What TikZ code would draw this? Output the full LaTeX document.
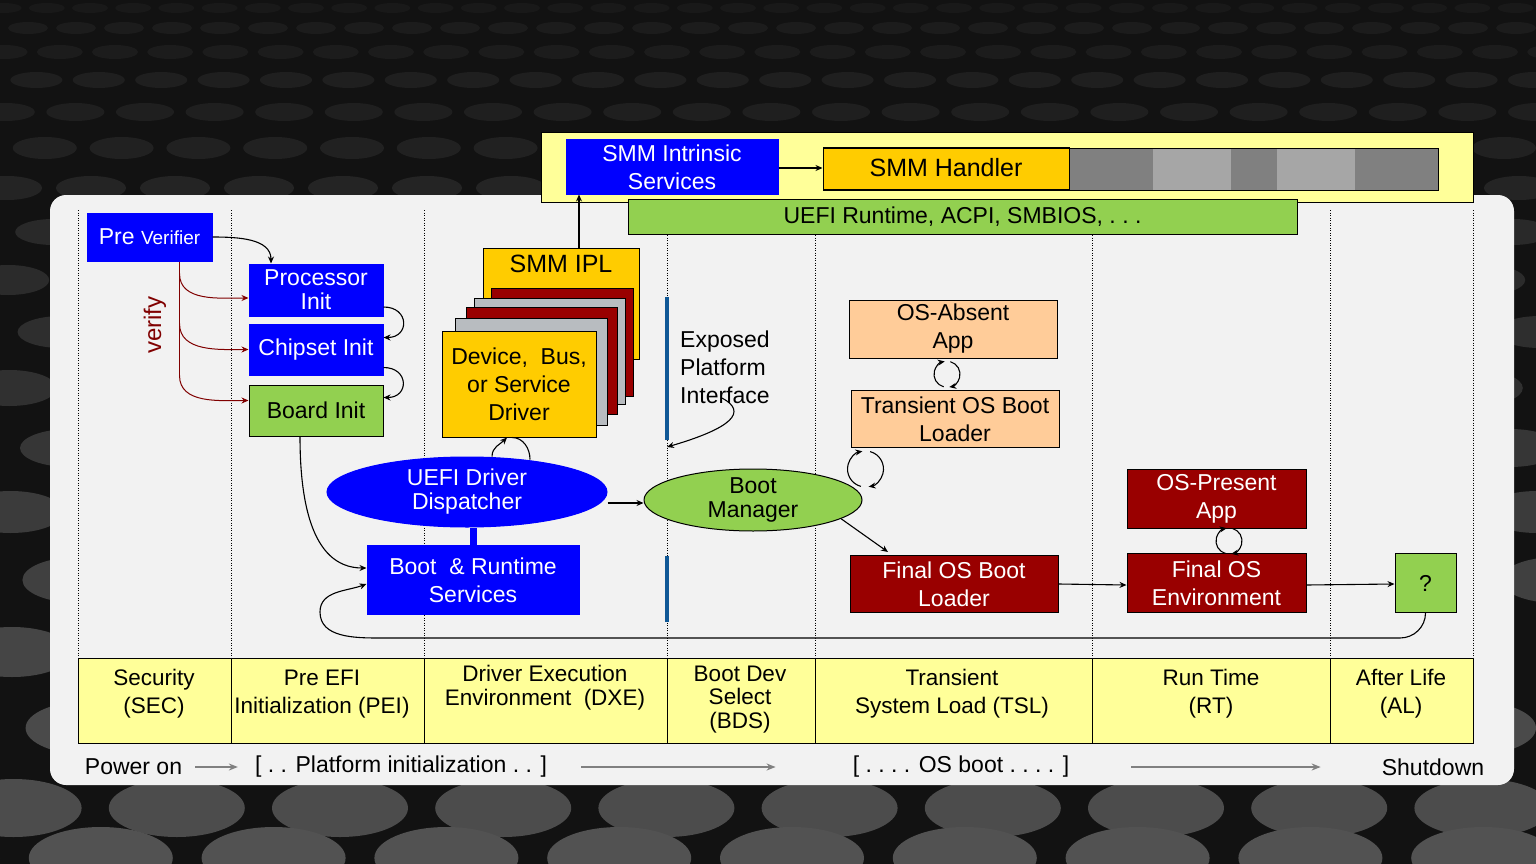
\documentclass[tikz,border=0pt]{standalone}
\usepackage{fontspec}
\setmainfont{Liberation Sans}
\usepackage{tikz}
\usetikzlibrary{arrows.meta,shapes.geometric,calc}

\definecolor{uefiblue}{RGB}{0,0,255}
\definecolor{leafgreen}{RGB}{146,208,80}
\definecolor{smmyellow}{RGB}{255,204,0}
\definecolor{paleyellow}{RGB}{255,255,153}
\definecolor{darkred}{RGB}{153,0,0}
\definecolor{peach}{RGB}{255,204,153}
\definecolor{panelgray}{RGB}{242,242,242}
\definecolor{verifyred}{RGB}{128,0,0}
\definecolor{barblue}{RGB}{16,88,150}
\definecolor{stackgray}{RGB}{184,188,192}
\definecolor{segdark}{RGB}{128,128,128}
\definecolor{seglight}{RGB}{166,166,166}

\begin{document}
\begin{tikzpicture}[x=1pt,y=-1pt,
  box/.style={draw=black,line width=1pt,inner sep=0pt,align=center,font=\fontsize{23}{28}\selectfont},
  bluebox/.style={box,draw=uefiblue,fill=uefiblue,text=white},
  greenbox/.style={box,fill=leafgreen},
  redbox/.style={box,fill=darkred,text=white},
  peachbox/.style={box,fill=peach},
  ambbox/.style={box,fill=smmyellow},
  flow/.style={line width=1.1pt,-{Stealth[length=7pt,width=6pt]}},
  verline/.style={verifyred,line width=1pt},
  verflow/.style={verline,-{Stealth[length=7pt,width=6pt]}},
  phaseline/.style={black,line width=0.7pt,dash pattern=on 1pt off 1.5pt},
  phase/.style={align=center,inner sep=0pt,font=\fontsize{22.5}{28}\selectfont},
  tltext/.style={inner sep=0pt,font=\fontsize{23}{28}\selectfont},
  timeline/.style={segdark,line width=2.2pt,-{Stealth[length=9pt,width=7pt]}},
  epibar/.style={barblue,line width=4pt}]
\useasboundingbox (0,0) rectangle (1536,864);

%%Background
\begin{scope}
\clip (0,0) rectangle (1536,864);
\fill[white!7!black] (0,0) rectangle (1536,864);
\foreach \yy/\rx/\ry/\lum [count=\rowno] in {8/18/5/10, 28/20/6/11, 52/23/7/11, 80/26/8/12,
    112/29/9/12, 148/32/11/13, 188/35/12/14, 232/38/13/16, 280/41/15/17, 332/44/16/18,
    388/47/18/19, 448/50/19/21, 512/53/21/23, 580/56/23/25, 652/60/25/27, 728/64/27/29,
    808/68/29/30, 858/72/31/32}{
  \pgfmathtruncatemacro{\nn}{1536/(2.4*\rx)+1}
  \pgfmathsetmacro{\xoff}{mod(\rowno,2)*1.2*\rx}
  \foreach \k in {0,...,\nn}
    \fill[white!\lum!black] ({\k*2.4*\rx+\xoff-\rx},\yy) ellipse [x radius=\rx, y radius=\ry];
}
\end{scope}

%%Panel
\fill[panelgray,rounded corners=16pt] (50,195) rectangle (1514,785);

%%Phase columns
\foreach \xx in {78,231,424,667,815,1092,1330,1473}
  \draw[phaseline] (\xx,210) -- (\xx,658);

%%Phase table
\draw[line width=1pt,fill=paleyellow] (78,658) rectangle (1473,743);
\foreach \xx in {231,424,667,815,1092,1330}
  \draw[line width=1pt] (\xx,658) -- (\xx,743);
\node[phase] (sec) at (154,694) {Security\\(SEC)};
\node[phase] (pei) at (322,694) {Pre EFI\\Initialization (PEI)};
\node[phase,font=\fontsize{22.5}{24}\selectfont] (dxe) at (545,688) {Driver Execution\\Environment\ \ (DXE)};
\node[phase,font=\fontsize{22.5}{23.5}\selectfont] (bds) at (740,699.5) {Boot Dev\\Select\\(BDS)};
\node[phase] (tsl) at (952,694) {Transient\\System Load (TSL)};
\node[phase] (rt) at (1211,694) {Run Time\\(RT)};
\node[phase] (al) at (1401,694) {After Life\\(AL)};

%%Timeline
\node[tltext] (pwr) at (133.5,767) {Power on};
\node[tltext] (platf) at (401,767) {[ .\ . Platform initialization .\ . ]};
\node[tltext] (osboot) at (961,767) {[ .\ .\ .\ . OS boot .\ .\ .\ . ]};
\node[tltext] (shut) at (1433,767) {Shutdown};
\draw[timeline] ([xshift=13pt]pwr.east) -- ([xshift=-17pt]platf.west);
\draw[timeline] ([xshift=34pt]platf.east) -- ([xshift=-77pt]osboot.west);
\draw[timeline] ([xshift=62pt]osboot.east) -- ([xshift=-61pt]shut.west);

%%SMM
\node[box,fill=paleyellow,minimum width=932pt,minimum height=69pt] (smmframe) at (1007,167.5) {};
\node[bluebox,minimum width=212pt,minimum height=54pt] (smmint) at (672,167) {SMM Intrinsic\\Services};
\node[ambbox,font=\fontsize{25}{28}\selectfont,minimum width=246pt,minimum height=42pt] (handler) at (946,168) {SMM Handler};
\foreach \a/\b/\c in {1069/1153/segdark,1153/1231/seglight,1231/1277/segdark,1277/1355/seglight,1355/1438/segdark}
  \fill[\c] (\a,148) rectangle (\b,190);
\draw[line width=1pt] (823,148) rectangle (1438,190);
\draw[line width=1pt] (1069,148) -- (1069,190);
\draw[flow] (smmint.east |- handler.west) -- (handler.west);
\node[greenbox,minimum width=669pt,minimum height=35pt] (uefirt) at (962.5,217) {UEFI Runtime, ACPI, SMBIOS, .\ .\ .};

%%SEC and PEI
\node[bluebox,minimum width=125pt,minimum height=48pt] (prever) at (149.5,237)
  {\fontsize{23}{24}\selectfont Pre \fontsize{19}{24}\selectfont Verifier};
\node[bluebox,font=\fontsize{23}{24}\selectfont,minimum width=134pt,minimum height=52pt] (proc) at (316,290) {Processor\\Init};
\node[bluebox,minimum width=134pt,minimum height=51pt] (chipset) at (316,349.5) {Chipset Init};
\node[greenbox,minimum width=134pt,minimum height=51pt] (board) at (316,410.5) {Board Init};
\node[rotate=90,text=verifyred,font=\fontsize{24}{24}\selectfont] (verlbl) at (155,325) {verify};

\draw[flow] (prever.east) to[out=0,in=90] ([xshift=-45pt]proc.north);
\coordinate (vtop) at ([xshift=-33pt]prever.south east);
\draw[verline] (vtop) -- ($(vtop)+(0,114)$);
\draw[verflow] ($(vtop)+(0,12)$) to[out=-90,in=180] ([yshift=-8pt]proc.west);
\draw[verflow] ($(vtop)+(0,62)$) to[out=-90,in=180] (chipset.west);
\draw[verflow] ($(vtop)+(0,114)$) to[out=-90,in=180] ([yshift=10pt]board.west);
\draw[flow] ([yshift=-17pt]proc.east) to[out=0,in=0,looseness=2.2] ([yshift=12pt]chipset.east);
\draw[flow] ([yshift=-18pt]chipset.east) to[out=0,in=0,looseness=2.2] ([yshift=13pt]board.east);

%%DXE
\node[ambbox,anchor=north,font=\fontsize{25}{28}\selectfont,minimum width=156pt,inner ysep=6pt,text height=18pt,text depth=81pt] (smmipl) at (561,248) {SMM IPL};
\node[box,fill=darkred,minimum width=142pt,minimum height=108pt] (stackA) at (562,342) {};
\node[box,fill=stackgray,minimum width=151pt,minimum height=106pt] (stackB) at (549.5,351) {};
\node[box,fill=darkred,minimum width=151pt,minimum height=107pt] (stackC) at (541.5,360.5) {};
\node[box,fill=stackgray,minimum width=152pt,minimum height=107pt] (stackD) at (531,371.5) {};
\node[ambbox,minimum width=154pt,minimum height=106pt] (dev) at (519,384) {Device,\ \ Bus,\\or Service\\Driver};
\draw[flow] ([xshift=18pt]smmipl.north) -- ([xshift=18pt]smmipl.north |- smmint.south);

\node[ellipse,bluebox,font=\fontsize{23}{24}\selectfont,minimum width=280pt,minimum height=70pt,inner ysep=-4pt] (disp) at (467,492) {UEFI Driver\\Dispatcher};
\node[bluebox,minimum width=212pt,minimum height=69pt] (brs) at (473,580) {Boot\ \ \& Runtime\\Services};
\draw[uefiblue,line width=7pt] (brs.north) -- (brs.north |- disp.south);
\draw[flow] ([xshift=25pt]disp.north) to[out=90,in=-135] ([xshift=-12pt]dev.south);
\draw[line width=1.1pt] ([xshift=-7pt]dev.south) to[out=0,in=90] ([xshift=63pt,yshift=-3pt]disp.north);
\draw[flow] ([xshift=-16pt]board.south) to[out=-90,in=180] ([yshift=12pt]brs.west);

%%BDS
\draw[epibar] (667,297) -- (667,440) coordinate (barend);
\draw[epibar] (667,556) -- (667,622);
\node[tltext,align=left,anchor=west] (epi) at (680,367) {Exposed\\Platform\\Interface};
\coordinate (epitail) at (722,398);
\draw[flow] (epitail) .. controls (748,412) and (732,428) .. ([yshift=-7pt]barend);
\node[ellipse,greenbox,font=\fontsize{23}{24}\selectfont,minimum width=218pt,minimum height=62pt,inner ysep=-4pt] (bootmgr) at (753,500) {Boot\\Manager};
\draw[flow] ([yshift=-11pt]disp.east) -- ([yshift=-3pt]bootmgr.west);

%%TSL
\node[peachbox,minimum width=208pt,minimum height=58pt] (osabs) at (953,329) {OS-Absent\\App};
\node[peachbox,minimum width=208pt,minimum height=57pt] (trans) at (955,419) {Transient OS Boot\\Loader};
\node[redbox,minimum width=208pt,minimum height=57pt] (fosbl) at (954,584) {Final OS Boot\\Loader};
\draw[flow] (bootmgr.-12) -- ([xshift=-66pt,yshift=3pt]fosbl.north);
\coordinate (bmloop) at ([xshift=15pt,yshift=-21pt]trans.south west);
\draw[flow] (bmloop) ++(255:18pt) arc[start angle=255,end angle=100,radius=18pt];
\draw[flow] (bmloop) ++(75:18pt) arc[start angle=75,end angle=-80,radius=18pt];
\coordinate (apploop) at ($(osabs.south)!0.5!(trans.north)+(-7,0)$);
\draw[flow] (apploop) ++(255:13pt) arc[start angle=255,end angle=100,radius=13pt];
\draw[flow] (apploop) ++(75:13pt) arc[start angle=75,end angle=-80,radius=13pt];

%%RT and AL
\node[redbox,minimum width=179pt,minimum height=59pt] (osp) at (1216.5,499) {OS-Present\\App};
\node[redbox,minimum width=179pt,minimum height=59pt] (fosenv) at (1216.5,583) {Final OS\\Environment};
\node[greenbox,minimum width=61pt,minimum height=59pt] (q) at (1425.5,583) {?};
\coordinate (osloop) at ($(osp.south)!0.5!(fosenv.north)+(12.5,0)$);
\draw[flow] (osloop) ++(255:13pt) arc[start angle=255,end angle=100,radius=13pt];
\draw[flow] (osloop) ++(75:13pt) arc[start angle=75,end angle=-80,radius=13pt];
\draw[flow] (fosbl.east) -- ([yshift=-2pt]fosenv.west);
\draw[flow] ([yshift=-2pt]fosenv.east) -- ([yshift=-1pt]q.west);
\draw[flow] (q.south) to[out=-90,in=0] (1400,638) -- (380,638) to[out=180,in=-90] (320,612)
  to[out=90,in=200] ([yshift=-4pt]brs.west);

\end{tikzpicture}
\end{document}
